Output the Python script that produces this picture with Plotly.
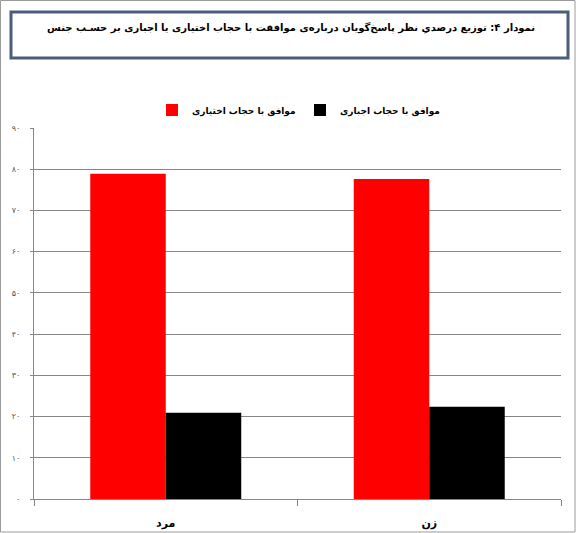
import plotly.graph_objects as go

categories = ["مرد", "زن"]
series_names = ["موافق با حجاب اختیاری", "موافق با حجاب اجباری"]
voluntary = [78.9, 77.6]
compulsory = [20.9, 22.4]
tick_vals = [0, 10, 20, 30, 40, 50, 60, 70, 80, 90]
tick_text = ["۰", "۱۰", "۲۰", "۳۰", "۴۰", "۵۰", "۶۰", "۷۰", "۸۰", "۹۰"]
title_text = "نمودار ۴: توزیع درصدیِ نظر پاسخ‌گویان درباره‌ی موافقت با حجاب اختیاری یا اجباری بر حسـب جنس"

W, H = 576, 533
L, R, T, B = 34, 15, 128, 34
PW, PH = W - L - R, H - T - B


def px_x(px):
    return (px - L) / PW


def px_y(py):
    return (H - B - py) / PH


FONT = "DejaVu Sans"

fig = go.Figure()
fig.add_trace(go.Bar(x=categories, y=voluntary, name=series_names[0],
                     marker=dict(color="#FF0000", line=dict(width=0))))
fig.add_trace(go.Bar(x=categories, y=compulsory, name=series_names[1],
                     marker=dict(color="#000000", line=dict(width=0))))

fig.update_layout(
    width=W, height=H, autosize=False,
    margin=dict(l=L, r=R, t=T, b=B, pad=0, autoexpand=False),
    paper_bgcolor="white", plot_bgcolor="white",
    barmode="group", bargap=0.427, bargroupgap=0,
    font=dict(family=FONT, color="black"),
    showlegend=True,
    legend=dict(orientation="h", x=px_x(152), y=px_y(110), xanchor="left", yanchor="middle",
                font=dict(family=FONT, size=9, color="black", weight="bold"),
                bgcolor="rgba(0,0,0,0)", traceorder="normal", itemclick=False,
                entrywidth=103, entrywidthmode="pixels"),
    xaxis=dict(showgrid=False, showline=True, linecolor="#868686", linewidth=1,
               ticks="outside", tickson="boundaries", ticklen=6, tickcolor="#868686",
               tickfont=dict(family=FONT, size=11, color="black", weight="bold"),
               ticklabelstandoff=14, automargin=False, fixedrange=True),
    yaxis=dict(range=[0, 90], tickvals=tick_vals, ticktext=tick_text,
               showgrid=True, gridcolor="#868686", gridwidth=1,
               showline=True, linecolor="#868686", linewidth=1,
               ticks="outside", ticklen=3, tickcolor="#868686",
               tickfont=dict(family=FONT, size=8, color="#555555"),
               ticklabelstandoff=8, zeroline=False, automargin=False, fixedrange=True),
    shapes=[
        dict(type="rect", xref="paper", yref="paper",
             x0=px_x(0.5), x1=px_x(575), y0=px_y(532), y1=px_y(0.5),
             line=dict(color="#9a9a9a", width=1), fillcolor="rgba(0,0,0,0)", layer="below"),
        dict(type="rect", xref="paper", yref="paper",
             x0=px_x(11), x1=px_x(568), y0=px_y(58), y1=px_y(12),
             line=dict(color="#4a5e7c", width=3), fillcolor="rgba(0,0,0,0)"),
    ],
    annotations=[
        dict(text=title_text, xref="paper", yref="paper", x=px_x(291), y=px_y(28),
             xanchor="center", yanchor="middle", showarrow=False,
             font=dict(family=FONT, size=10, color="black", weight="bold")),
    ],
)

fig.write_html("out.html",
               config={"displayModeBar": False, "responsive": False},
               post_script="document.body.style.margin='0';")
